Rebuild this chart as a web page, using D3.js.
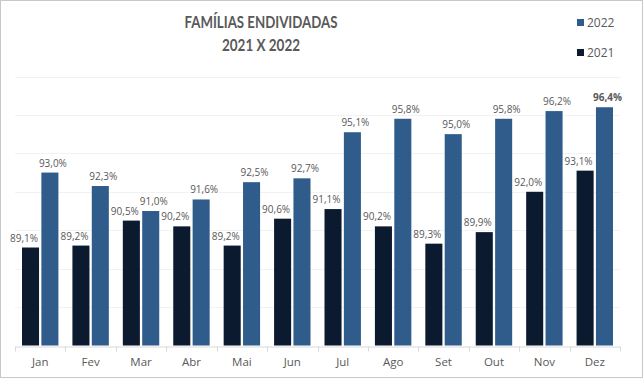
<!DOCTYPE html>
<html><head><meta charset="utf-8">
<script src="https://cdn.jsdelivr.net/npm/d3@7"></script>
<style>body{margin:0;background:#fff}svg{display:block}</style>
</head><body>
<svg id="c" width="643" height="378"></svg>
<script>
const categories = ["Jan","Fev","Mar","Abr","Mai","Jun","Jul","Ago","Set","Out","Nov","Dez"];
const values2021 = [89.1,89.2,90.5,90.2,89.2,90.6,91.1,90.2,89.3,89.9,92.0,93.1];
const values2022 = [93.0,92.3,91.0,91.6,92.5,92.7,95.1,95.8,95.0,95.8,96.2,96.4];
const gridTicks = [86,88,90,92,94,96,98];
const seriesNames = ["2021","2022"];
const colors = {"2021":"#0b1a2e","2022":"#2f5c8a"};

const svg = d3.select("#c");
const W = 643, H = 378;
svg.append("rect").attr("x",0.5).attr("y",0.5).attr("width",W-1).attr("height",H-1)
  .attr("fill","#fff").attr("stroke","#c8c8c8");

const x0 = d3.scaleBand().domain(categories).range([15,620]).paddingInner(0).paddingOuter(0);
const y = d3.scaleLinear().domain([84,98]).range([345.5,76.5]);
const x1 = d3.scaleBand().domain(seriesNames).range([7, x0.bandwidth()-7]).paddingInner(0.12);

// gridlines
svg.append("g").selectAll("line").data(gridTicks).join("line")
  .attr("x1",15).attr("x2",620)
  .attr("y1",d=>Math.round(y(d))+0.5).attr("y2",d=>Math.round(y(d))+0.5)
  .attr("stroke","#f2f2f2").attr("stroke-width",1);

const data = categories.map((c,i)=>({c, v:{"2021":values2021[i],"2022":values2022[i]}}));

const groups = svg.append("g").selectAll("g").data(data).join("g")
  .attr("transform",d=>`translate(${x0(d.c)},0)`);

groups.selectAll("rect").data(d=>seriesNames.map(s=>({s,v:d.v[s]}))).join("rect")
  .attr("x",d=>x1(d.s)).attr("width",x1.bandwidth())
  .attr("y",d=>y(d.v)).attr("height",d=>y(84)-y(d.v))
  .attr("fill",d=>colors[d.s]);

const fmt = v => v.toFixed(1).replace(".",",")+"%";
groups.selectAll("text").data((d,i)=>seriesNames.map(s=>({s,v:d.v[s],last:i===categories.length-1}))).join("text")
  .attr("x",d=> d.s==="2021" ? x1(d.s)+x1.bandwidth()-1 : x1(d.s)+x1.bandwidth()/2+3)
  .attr("y",d=>y(d.v)-6)
  .attr("text-anchor",d=> d.s==="2021" ? "end" : "middle")
  .attr("font-family","'Open Sans', sans-serif").attr("font-size",10)
  .attr("font-weight",d=> (d.last && d.s==="2022") ? "bold" : "normal")
  .attr("fill","#595959")
  .text(d=>fmt(d.v));

// x axis
const xAxis = d3.axisBottom(x0).tickSize(0).tickPadding(11);
const ax = svg.append("g").attr("transform",`translate(0,${Math.round(y(84))+0.5})`).call(xAxis);
ax.select(".domain").attr("stroke","#d9d9d9");
ax.selectAll("text").attr("font-family","'Open Sans', sans-serif").attr("font-size",11.5).attr("fill","#595959");
ax.append("g").selectAll("line").data(d3.range(categories.length+1)).join("line")
  .attr("x1",i=>Math.round(15+i*x0.step())+0.5).attr("x2",i=>Math.round(15+i*x0.step())+0.5)
  .attr("y1",0).attr("y2",5).attr("stroke","#d9d9d9");

// title
const title = svg.append("g").attr("font-family","Lato, 'Open Sans', sans-serif").attr("font-weight","bold")
  .attr("font-size",17.5).attr("fill","#595959").attr("text-anchor","middle");
title.append("text").attr("x",261).attr("y",28).attr("textLength",153).attr("lengthAdjust","spacingAndGlyphs").text("FAMÍLIAS ENDIVIDADAS");
title.append("text").attr("x",261).attr("y",51).attr("textLength",78).attr("lengthAdjust","spacingAndGlyphs").text("2021 X 2022");

// legend
const legendOrder = ["2022","2021"];
const lg = svg.append("g").selectAll("g").data(legendOrder).join("g")
  .attr("transform",(d,i)=>`translate(577,${19+i*30})`);
lg.append("rect").attr("width",7).attr("height",7).attr("fill",d=>colors[d]);
lg.append("text").attr("x",10).attr("y",8).attr("font-family","'Open Sans', sans-serif")
  .attr("font-size",12).attr("fill","#595959").text(d=>d);
</script>
</body></html>
